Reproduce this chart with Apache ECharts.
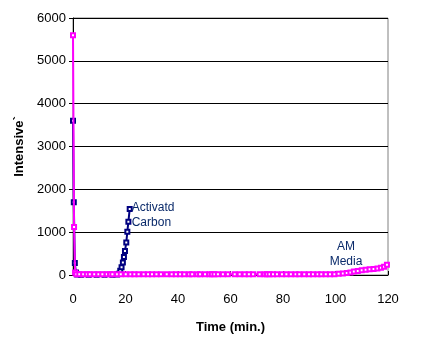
<!DOCTYPE html>
<html><head><meta charset="utf-8">
<script src="https://cdn.jsdelivr.net/npm/echarts@6/dist/echarts.min.js"></script>
<style>html,body{margin:0;padding:0;background:#fff}#c{width:430px;height:350px}</style>
</head><body><div id="c"></div>
<script>
var xTicks = [0, 20, 40, 60, 80, 100, 120];
var yTicks = [0, 1000, 2000, 3000, 4000, 5000, 6000];
var carbonName = "Activatd\nCarbon";
var mediaName = "AM\nMedia";
var carbonData = [[0,3600],[0.3,1700],[0.7,280],[1.1,60],[1.6,10],[3,5],[6,5],[9,5],[12,5],[15,5],[16.8,10],[17.5,30],[18.0,100],[18.5,180],[19.0,290],[19.4,420],[19.8,560],[20.3,760],[20.7,1010],[21.1,1245],[21.6,1540]];
var mediaData = [[0,5600],[0.4,1120],[0.8,60],[1.3,20],[2.4,20],[3.9,20],[5.3,20],[6.4,20],[8.1,20],[9.7,20],[11.2,20],[12.9,20],[14.1,20],[15.0,20],[16.8,20],[18.2,20],[20.1,20],[21.9,20],[23.4,20],[25.0,20],[26.9,20],[28.6,20],[30.1,20],[31.8,20],[33.5,20],[35.7,20],[37.6,20],[39.2,20],[40.8,20],[42.4,20],[44.3,20],[45.4,20],[47.4,20],[48.4,20],[50.3,20],[52.0,20],[52.9,20],[53.9,20],[55.2,20],[57.1,20],[59.0,20],[61.6,20],[63.5,20],[65.4,20],[67.0,20],[68.6,20],[71.1,20],[73.0,20],[73.9,20],[74.9,20],[76.2,20],[77.7,20],[79.6,20],[81.3,20],[83.0,20],[84.8,20],[86.2,20],[88.1,20],[89.9,20],[91.4,20],[93.2,20],[94.6,20],[96.3,20],[97.9,20],[99.6,20],[101.2,30],[102.8,35],[104.3,45],[105.7,60],[107.0,80],[108.5,95],[110.0,110],[111.5,120],[113.0,135],[114.5,140],[116.0,150],[117.3,170],[118.5,190],[119.6,240]];
var mediaLabelAt = [104, 480];

var chart = echarts.init(document.getElementById('c'), null, {renderer:'canvas'});
var font = 'Liberation Sans, Arial, sans-serif';
chart.setOption({
  animation:false,
  backgroundColor:'#fff',
  grid:{left:73,right:42,top:18,bottom:75,show:true,borderColor:'#808080',borderWidth:1,backgroundColor:'transparent'},
  xAxis:{type:'value',min:0,max:120,interval:20,
    name:'Time (min.)',nameLocation:'middle',nameGap:46,
    nameTextStyle:{fontFamily:font,fontSize:13,fontWeight:'bold',color:'#000'},
    axisLine:{show:true,onZero:false,lineStyle:{color:'#000',width:1}},
    axisTick:{show:true,inside:true,length:4,lineStyle:{color:'#000'}},
    axisLabel:{fontFamily:font,fontSize:13,color:'#000',margin:18,
      formatter:function(v){return xTicks.indexOf(v)>=0?String(v):'';}},
    splitLine:{show:false}},
  yAxis:{type:'value',min:0,max:6000,interval:1000,
    name:'Intensive`',nameLocation:'middle',nameGap:32,nameRotate:90,
    nameTextStyle:{fontFamily:font,fontSize:13,fontWeight:'bold',color:'#000'},
    axisLine:{show:true,lineStyle:{color:'#000',width:1}},
    axisTick:{show:true,length:4,lineStyle:{color:'#000'}},
    axisLabel:{fontFamily:font,fontSize:13,color:'#000',margin:7,
      formatter:function(v){return yTicks.indexOf(v)>=0?String(v):'';}},
    splitLine:{show:true,lineStyle:{color:'#000',width:1}}},
  series:[
    {type:'line',name:carbonName,data:carbonData,z:2,
      lineStyle:{color:'#000080',width:2},
      itemStyle:{color:'#000080',borderColor:'#000080',borderWidth:1},
      symbol:'emptyRect',symbolSize:4,showAllSymbol:true,
      endLabel:{show:true,formatter:carbonName,color:'#0a2a6a',fontFamily:font,fontSize:12,lineHeight:15,offset:[-6,6]}},
    {type:'line',name:mediaName,data:mediaData,z:3,
      lineStyle:{color:'#ff00ff',width:2},
      itemStyle:{color:'#ff00ff',borderColor:'#ff00ff',borderWidth:1},
      symbol:'emptyRect',symbolSize:4,showAllSymbol:true,
      markPoint:{symbol:'circle',symbolSize:1,silent:true,itemStyle:{color:'transparent'},
        data:[{coord:mediaLabelAt,value:0}],
        label:{show:true,formatter:mediaName,color:'#0a2a6a',fontFamily:font,fontSize:12,lineHeight:15,position:'inside'}}}
  ]
});
</script></body></html>
